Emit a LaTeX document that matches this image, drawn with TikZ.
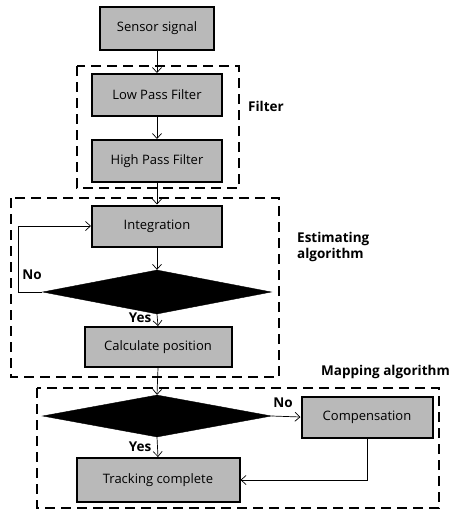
\documentclass[tikz,border=0pt]{standalone}
\usepackage{fontspec}
\setmainfont{Open Sans}
\usetikzlibrary{shapes.geometric, arrows.meta}

\begin{document}
\begin{tikzpicture}[x=1pt, y=-1pt,
  stage/.style={draw, line width=2pt, fill=gray!55, inner sep=0pt, font=\fontsize{13}{15}\selectfont},
  decide/.style={diamond, aspect=5.2, fill=black, draw=black, inner sep=0pt, minimum width=229pt, minimum height=44pt},
  group/.style={line width=2.2pt, dash pattern=on 10pt off 6pt},
  flow/.style={-{Straight Barb[length=5pt, width=9pt]}, line width=0.7pt},
  tag/.style={font=\fontsize{13.5}{16}\selectfont\bfseries}]

\useasboundingbox (0,0) rectangle (454,515);

\node[stage, minimum width=114pt, minimum height=43pt] (sensor) at (157,28) {Sensor signal};
\node[stage, minimum width=130pt, minimum height=42pt] (lpf) at (157,95) {Low Pass Filter};
\node[stage, minimum width=130pt, minimum height=42pt] (hpf) at (157,161) {High Pass Filter};
\node[stage, minimum width=130pt, minimum height=41pt] (integ) at (157,226) {Integration};
\node[decide] (check) at (157,292) {};
\node[stage, minimum width=147pt, minimum height=40pt] (calc) at (158,347) {Calculate position};
\node[decide, minimum height=42pt] (match) at (157,416) {};
\node[stage, minimum width=131pt, minimum height=41pt] (comp) at (367,417) {Compensation};
\node[stage, minimum width=163pt, minimum height=44pt] (track) at (158,480) {Tracking complete};

\draw[group] (77,66) rectangle (239,188);
\draw[group] (11,198) rectangle (279,377);
\draw[group] (37,388) rectangle (439,508);

\node[tag, anchor=west, inner sep=0pt] (filtertag) at (248,106) {Filter};
\node[tag, anchor=west, align=left, inner sep=0pt] (esttag) at (297,247) {Estimating\\algorithm};
\node[tag, anchor=west, inner sep=0pt] (maptag) at (321,372) {Mapping algorithm};

\draw[flow] (sensor) -- (lpf);
\draw[flow] (lpf) -- (hpf);
\draw[flow] (hpf) -- (integ);
\draw[flow] (integ) -- (check);
\draw[flow] (check.south) -- (calc.north);
\draw[flow] (calc.south) -- (match.north);
\draw[flow] (match.south) -- (track.north);
\draw[flow] (match.east) -- (comp.west);
\draw[flow] (comp.south) |- (track.east);
\coordinate (loop) at (18,292);
\draw[flow] (check.west) -- (loop) |- (integ.west);

\node[tag] (no1) at (32,275) {No};
\node[tag] (yes1) at (140,318) {Yes};
\node[tag] (no2) at (283,403) {No};
\node[tag] (yes2) at (140,447) {Yes};

\end{tikzpicture}
\end{document}
